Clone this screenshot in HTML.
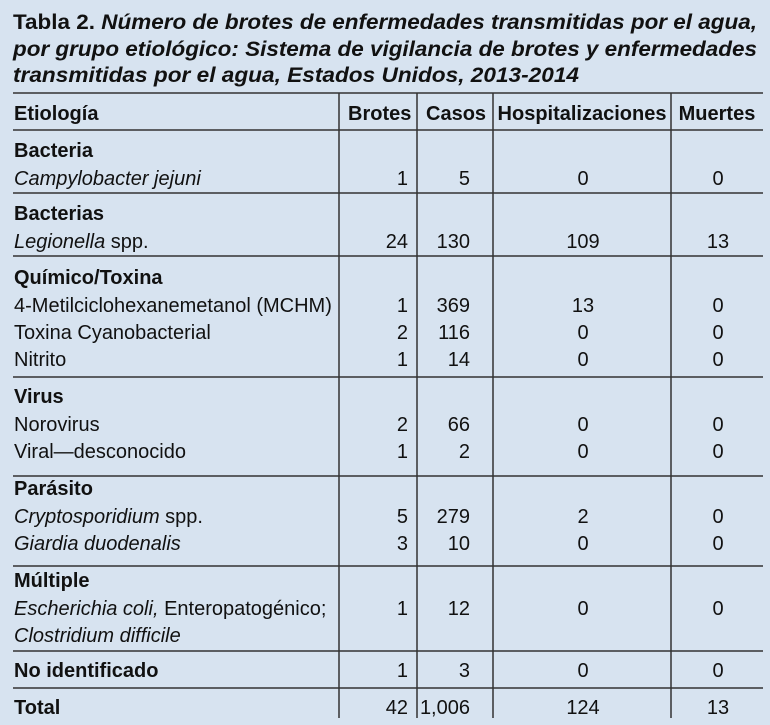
<!DOCTYPE html>
<html><head><meta charset="utf-8"><style>
html,body{margin:0;padding:0;background:#d7e3f0;}
svg{display:block}
.t{font-family:"Liberation Sans",sans-serif;font-weight:bold;font-size:21px;fill:#111}
.b{font-family:"Liberation Sans Narrow","Liberation Sans",sans-serif;font-size:20px;fill:#111}
.h{font-weight:bold}
.i{font-style:italic}
</style></head><body>
<svg width="770" height="725" viewBox="0 0 770 725" xmlns="http://www.w3.org/2000/svg">
<rect width="770" height="725" fill="#d7e3f0"/>
<text class="t" x="13" y="29" textLength="744" lengthAdjust="spacingAndGlyphs">Tabla 2. <tspan font-style="italic">Número de brotes de enfermedades transmitidas por el agua,</tspan></text>
<text class="t i" x="13" y="56" font-style="italic" textLength="744" lengthAdjust="spacingAndGlyphs">por grupo etiológico: Sistema de vigilancia de brotes y enfermedades</text>
<text class="t" x="13" y="82" font-style="italic" textLength="566" lengthAdjust="spacingAndGlyphs">transmitidas por el agua, Estados Unidos, 2013-2014</text>
<g stroke="#333" stroke-width="1.5">
<line x1="13" y1="93" x2="763" y2="93"/>
<line x1="13" y1="130" x2="763" y2="130"/>
<line x1="13" y1="193" x2="763" y2="193"/>
<line x1="13" y1="256" x2="763" y2="256"/>
<line x1="13" y1="377" x2="763" y2="377"/>
<line x1="13" y1="476" x2="763" y2="476"/>
<line x1="13" y1="566" x2="763" y2="566"/>
<line x1="13" y1="651" x2="763" y2="651"/>
<line x1="13" y1="688" x2="763" y2="688"/>
<line x1="339" y1="93" x2="339" y2="718"/>
<line x1="417" y1="93" x2="417" y2="718"/>
<line x1="493" y1="93" x2="493" y2="718"/>
<line x1="671" y1="93" x2="671" y2="718"/>
</g>
<g class="b">
<text class="b h" x="14" y="120">Etiología</text>
<text class="b h" x="348" y="120">Brotes</text>
<text class="b h" x="426" y="120">Casos</text>
<text class="b h" x="582" y="120" text-anchor="middle">Hospitalizaciones</text>
<text class="b h" x="717" y="120" text-anchor="middle">Muertes</text>

<text class="b h" x="14" y="157">Bacteria</text>
<text class="b i" x="14" y="185">Campylobacter jejuni</text>
<text class="b h" x="14" y="220">Bacterias</text>
<text class="b" x="14" y="248"><tspan font-style="italic">Legionella</tspan> spp.</text>
<text class="b h" x="14" y="284">Químico/Toxina</text>
<text class="b" x="14" y="312">4-Metilciclohexanemetanol (MCHM)</text>
<text class="b" x="14" y="339">Toxina Cyanobacterial</text>
<text class="b" x="14" y="366">Nitrito</text>
<text class="b h" x="14" y="403">Virus</text>
<text class="b" x="14" y="431">Norovirus</text>
<text class="b" x="14" y="458">Viral—desconocido</text>
<text class="b h" x="14" y="495">Parásito</text>
<text class="b" x="14" y="523"><tspan font-style="italic">Cryptosporidium</tspan> spp.</text>
<text class="b i" x="14" y="550">Giardia duodenalis</text>
<text class="b h" x="14" y="587">Múltiple</text>
<text class="b" x="14" y="615"><tspan font-style="italic">Escherichia coli,</tspan> Enteropatogénico;</text>
<text class="b i" x="14" y="642">Clostridium difficile</text>
<text class="b h" x="14" y="677">No identificado</text>
<text class="b h" x="14" y="714">Total</text>
</g>
<g class="b">
<g text-anchor="end">
<text class="b" x="408" y="185">1</text><text class="b" x="470" y="185">5</text>
<text class="b" x="408" y="248">24</text><text class="b" x="470" y="248">130</text>
<text class="b" x="408" y="312">1</text><text class="b" x="470" y="312">369</text>
<text class="b" x="408" y="339">2</text><text class="b" x="470" y="339">116</text>
<text class="b" x="408" y="366">1</text><text class="b" x="470" y="366">14</text>
<text class="b" x="408" y="431">2</text><text class="b" x="470" y="431">66</text>
<text class="b" x="408" y="458">1</text><text class="b" x="470" y="458">2</text>
<text class="b" x="408" y="523">5</text><text class="b" x="470" y="523">279</text>
<text class="b" x="408" y="550">3</text><text class="b" x="470" y="550">10</text>
<text class="b" x="408" y="615">1</text><text class="b" x="470" y="615">12</text>
<text class="b" x="408" y="677">1</text><text class="b" x="470" y="677">3</text>
<text class="b" x="408" y="714">42</text><text class="b" x="470" y="714">1,006</text>
</g>
<g text-anchor="middle">
<text class="b" x="583" y="185">0</text><text class="b" x="718" y="185">0</text>
<text class="b" x="583" y="248">109</text><text class="b" x="718" y="248">13</text>
<text class="b" x="583" y="312">13</text><text class="b" x="718" y="312">0</text>
<text class="b" x="583" y="339">0</text><text class="b" x="718" y="339">0</text>
<text class="b" x="583" y="366">0</text><text class="b" x="718" y="366">0</text>
<text class="b" x="583" y="431">0</text><text class="b" x="718" y="431">0</text>
<text class="b" x="583" y="458">0</text><text class="b" x="718" y="458">0</text>
<text class="b" x="583" y="523">2</text><text class="b" x="718" y="523">0</text>
<text class="b" x="583" y="550">0</text><text class="b" x="718" y="550">0</text>
<text class="b" x="583" y="615">0</text><text class="b" x="718" y="615">0</text>
<text class="b" x="583" y="677">0</text><text class="b" x="718" y="677">0</text>
<text class="b" x="583" y="714">124</text><text class="b" x="718" y="714">13</text>
</g>
</g>
</svg>
</body></html>
